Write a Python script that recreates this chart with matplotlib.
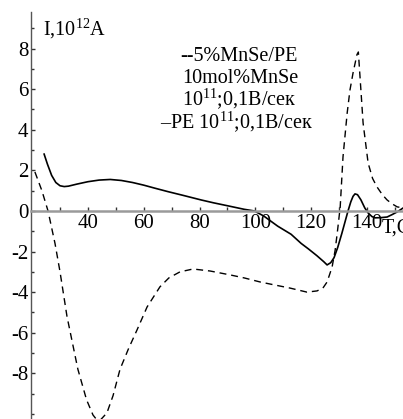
import numpy as np
import matplotlib
matplotlib.use("Agg")
import matplotlib.pyplot as plt
from matplotlib.ticker import FixedLocator, MultipleLocator

plt.rcParams['font.family'] = ['Liberation Serif', 'DejaVu Serif']
plt.rcParams['mathtext.fontset'] = 'custom'
plt.rcParams['mathtext.rm'] = 'Liberation Serif'

# PE, 10^11; 0.1 B/sec (solid)
pe_t = [24.3, 25.5, 27.0, 28.5, 30.0, 31.5, 33.0, 36.0, 40.0, 44.0, 48.0, 52.0,
        56.0, 60.0, 64.0, 68.7, 74.0, 80.6, 85.0, 90.2, 96.0, 99.6, 103.0, 108.0,
        112.8, 116.4, 119.0, 122.0, 124.5, 125.7, 127.0, 128.2, 129.5, 131.0,
        132.2, 133.2, 134.2, 135.0, 135.7, 136.6, 137.8, 139.2, 140.4, 141.8,
        142.9, 145.0, 147.2, 149.0, 150.8, 152.0, 153.0]
pe_i = [2.8, 2.3, 1.75, 1.4, 1.24, 1.2, 1.22, 1.32, 1.44, 1.52, 1.55, 1.5,
        1.4, 1.27, 1.12, 0.95, 0.77, 0.54, 0.4, 0.25, 0.08, 0.0, -0.25, -0.75,
        -1.15, -1.6, -1.87, -2.2, -2.5, -2.66, -2.55, -2.3, -1.8, -1.1,
        -0.5, 0.0, 0.45, 0.72, 0.84, 0.8, 0.55, 0.15, -0.1, -0.28,
        -0.34, -0.33, -0.3, -0.18, -0.05, 0.06, 0.15]

# 5% MnSe/PE (dashed)
mn_t = [21.0, 23.5, 25.7, 28.2, 30.0, 32.5, 36.4, 39.5, 41.8, 43.8, 46.8, 49.0,
        51.5, 54.5, 57.6, 61.2, 65.8, 69.0, 73.0, 77.7, 83.8, 90.9, 96.0, 101.7,
        107.0, 112.4, 118.5, 122.1, 124.2, 125.7, 127.5, 128.6, 129.5, 130.4,
        131.4, 132.9, 133.9, 135.0, 136.4, 136.9, 137.5, 138.6, 140.4, 142.0,
        143.6, 145.5, 147.2, 149.0, 150.8, 153.0]
mn_i = [1.92, 1.0, 0.0, -1.6, -3.0, -5.2, -7.8, -9.3, -10.05, -10.4, -9.95, -9.1,
        -7.8, -6.8, -5.86, -4.73, -3.74, -3.3, -3.0, -2.86, -2.96, -3.15, -3.3, -3.5,
        -3.65, -3.8, -4.0, -3.94, -3.8, -3.5, -2.76, -1.92, -0.9, 0.2,
        2.66, 4.83, 5.96, 6.8, 7.7, 7.83, 6.6, 4.33, 2.36, 1.6,
        1.18, 0.8, 0.54, 0.35, 0.2, 0.15]

x_ticks = [30, 40, 50, 60, 70, 80, 90, 100, 110, 120, 130, 140, 150]
x_labels = ['', '40', '', '60', '', '80', '', '100', '', '120', '', '140', '']
y_ticks = [-8, -6, -4, -2, 0, 2, 4, 6, 8]
y_labels = ['-8', '-6', '-4', '-2', '0', '2', '4', '6', '8']

W, H = 403, 419
fig = plt.figure(figsize=(W / 100, H / 100), dpi=100)
ax = fig.add_axes([31 / W, 0, 372 / W, 407 / H])

ax.plot(pe_t, pe_i, color='black', lw=1.2)
ax.plot(mn_t, mn_i, color='black', lw=1.0, dashes=(5, 3.5))

ax.set_xlim(19.6, 152.9)
ax.set_ylim(-10.25, 9.8)

for s in ['top', 'right']:
    ax.spines[s].set_visible(False)
ax.spines['bottom'].set_position(('data', 0))
ax.spines['bottom'].set_color('#9a9a9a')
ax.spines['bottom'].set_linewidth(1.8)
ax.spines['left'].set_color('#555555')
ax.spines['left'].set_linewidth(1.0)

ax.xaxis.set_major_locator(FixedLocator(x_ticks))
ax.set_xticklabels(x_labels)
ax.yaxis.set_major_locator(FixedLocator(y_ticks))
ax.set_yticklabels(y_labels)
ax.yaxis.set_minor_locator(MultipleLocator(1))
ax.tick_params(axis='x', direction='in', length=3, width=1, color='#333333',
               labelsize=15, pad=2)
ax.tick_params(axis='y', which='both', direction='in', length=3, width=1,
               color='#333333', labelsize=15, pad=2)
ax.tick_params(axis='y', which='minor', length=2.5)


def put(x, y, s, size=14.5):
    # place text by pixel position of its left end and baseline
    fig.text(x / W, 1 - y / H, s, fontsize=size, va='baseline', ha='left')


# axis titles
put(43, 35, r"I,10$^{\mathregular{12}}$A")
put(382, 233, "T,C")

# legend block
put(180, 61, "--5%MnSe/PE")
put(182, 83, "10mol%MnSe")
put(182, 106, r"10$^{\mathregular{11}}$;0,1B/сек")
put(160, 129, r"–PE 10$^{\mathregular{11}}$;0,1B/сек")

fig.savefig("out.png", dpi=100)
